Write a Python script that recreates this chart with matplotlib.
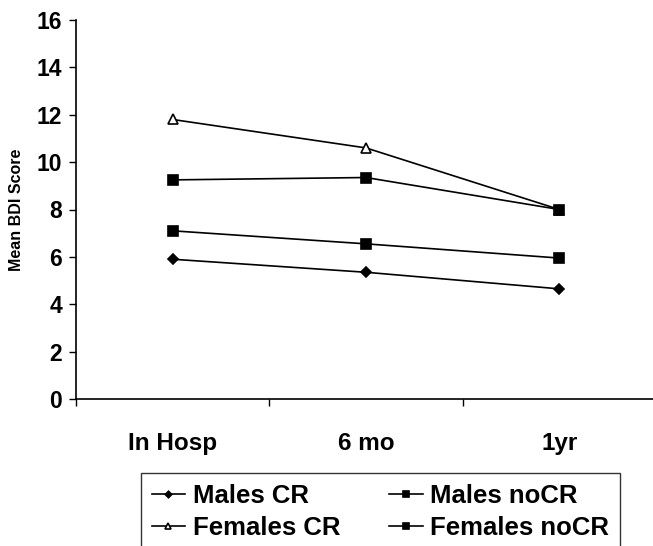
import matplotlib
matplotlib.use("Agg")
import matplotlib.pyplot as plt
import numpy as np

# data
timepoints = ["In Hosp", "6 mo", "1yr"]
males_cr = [5.9, 5.35, 4.65]
males_nocr = [7.1, 6.55, 5.95]
females_cr = [11.8, 10.6, 8.0]
females_nocr = [9.25, 9.35, 8.0]
y_ticks = [0, 2, 4, 6, 8, 10, 12, 14, 16]

plt.rcParams["font.family"] = ["Liberation Sans", "DejaVu Sans"]
plt.rcParams["font.weight"] = "bold"

fig = plt.figure(figsize=(6.53, 5.46), dpi=100)
ax = fig.add_axes([76 / 653, 1 - 399 / 546, 580 / 653, 379 / 546])

x = np.arange(len(timepoints)) + 0.5

# series: (label, values, marker, size, face)
series = [
    ("Males CR", males_cr, "D", 5.5, "black"),
    ("Males noCR", males_nocr, "s", 7, "black"),
    ("Females CR", females_cr, "^", 6.5, "white"),
    ("Females noCR", females_nocr, "s", 7, "black"),
]
lines = {}
for label, vals, mk, ms, fc in series:
    h, = ax.plot(x, vals, color="black", linewidth=1.2, marker=mk,
                 markersize=ms, markerfacecolor=fc, markeredgecolor="black",
                 markeredgewidth=1.2, label=label)
    lines[label] = h

ax.set_xlim(0, 3)
ax.set_ylim(0, 16)

# category axis: ticks between categories, labels at centers
ax.set_xticks([0, 1, 2, 3])
ax.set_xticklabels([])
ax.set_xticks(x, minor=True)
ax.set_xticklabels(timepoints, minor=True, fontsize=17.5, fontweight="bold")
ax.tick_params(axis="x", which="major", direction="out", length=5, width=1)
ax.tick_params(axis="x", which="minor", length=0, pad=24)

ax.set_yticks(y_ticks)
ax.set_yticklabels([str(v) for v in y_ticks], fontsize=16.5, fontweight="bold")
ax.tick_params(axis="y", direction="out", length=5, width=1, pad=5)

ax.set_ylabel("Mean BDI Score", fontsize=11.5, fontweight="bold", labelpad=9)

for side in ["top", "right"]:
    ax.spines[side].set_visible(False)
for side in ["left", "bottom"]:
    ax.spines[side].set_linewidth(1.2)

# column-wise fill: Males CR / Females CR, then Males noCR / Females noCR
order = ["Males CR", "Females CR", "Males noCR", "Females noCR"]
leg = fig.legend(handles=[lines[k] for k in order], loc="upper left", ncol=2,
                 bbox_to_anchor=(141 / 653, 1 - 473 / 546),
                 prop={"size": 18.5, "weight": "bold"}, frameon=True,
                 fancybox=False, edgecolor="black", markerscale=0.6,
                 handlelength=1.3, handletextpad=0.3, columnspacing=1.9,
                 labelspacing=0.32, borderpad=0.42, borderaxespad=0)
leg.get_frame().set_linewidth(1.0)

fig.savefig("out.png", dpi=100)
